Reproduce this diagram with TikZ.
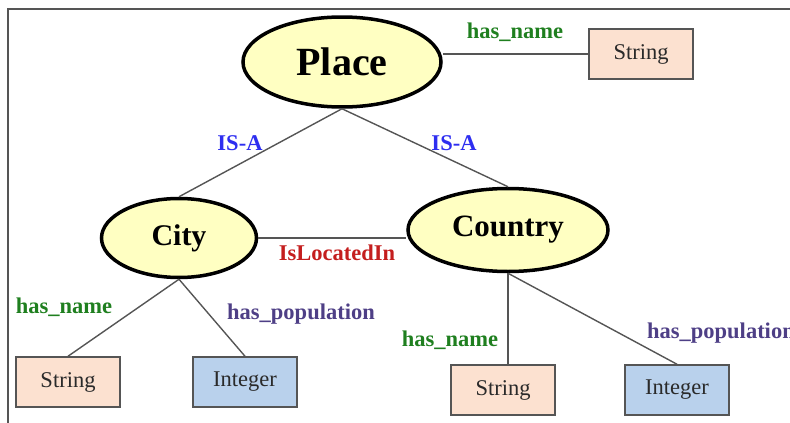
\documentclass[tikz,border=0pt]{standalone}
\usepackage{fontspec}
\setmainfont{Liberation Serif}
\usetikzlibrary{shapes.geometric, positioning}
\definecolor{classfill}{HTML}{FFFFC2}
\definecolor{strfill}{HTML}{FCE1D0}
\definecolor{intfill}{HTML}{B9D1EC}
\definecolor{boxline}{HTML}{555555}
\definecolor{typetext}{HTML}{2A2A2A}
\definecolor{isacol}{HTML}{2E2EF0}
\definecolor{namecol}{HTML}{1F7F1F}
\definecolor{loccol}{HTML}{C41E1E}
\definecolor{popcol}{HTML}{4E3F86}
\tikzset{
x=1pt, y=-1pt, % one unit is one pixel of the picture, y goes down
cls/.style={draw, ellipse, line width=3.5pt, fill=classfill, inner sep=0pt, font=\bfseries}, % class ellipses
typebox/.style={draw=boxline, line width=1.5pt, minimum width=104pt, minimum height=50pt, inner sep=0pt, text=typetext, font=\fontsize{22.5}{26}\selectfont}, % data type boxes
rel/.style={inner sep=0pt, font=\bfseries\fontsize{22.5}{26}\selectfont}, % relation labels
link/.style={draw=boxline, line width=1.4pt}, % connectors
}
\begin{document}
\begin{tikzpicture}
    \useasboundingbox (0,0) rectangle (790,423);
    \draw[boxline, line width=2pt] (8,423) -- (8,9) -- (790,9);
    % classes
    \node[cls, minimum width=198pt, minimum height=90pt, font=\bfseries\fontsize{40}{48}\selectfont] (place) at (342,62) {Place};
    \node[cls, minimum width=155pt, minimum height=79pt, font=\bfseries\fontsize{30}{36}\selectfont] (city) at (179,238) {City};
    \node[cls, minimum width=200pt, minimum height=83pt, font=\bfseries\fontsize{31}{36}\selectfont] (country) at (508,230) {Country};
    % types
    \node[typebox, fill=strfill] (pstr) at (641,54) {String};
    \node[typebox, fill=strfill] (cstr) at (68,382) {String};
    \node[typebox, fill=intfill] (cint) at (245,382) {Integer};
    \node[typebox, fill=strfill] (ystr) at (503,390) {String};
    \node[typebox, fill=intfill] (yint) at (677,390) {Integer};
    % edges
    \draw[link] (pstr.west) -- (pstr.west -| place.east);
    \draw[link] (place.south) -- (city.north);
    \draw[link] (place.south) -- (country.north);
    \draw[link] (city.east) -- (city.east -| country.west);
    \draw[link] (city.south) -- (cstr.north);
    \draw[link] (city.south) -- (cint.north);
    \draw[link] (country.south) -- (country.south |- ystr.north);
    \draw[link] (country.south) -- (yint.north);
    % labels
    \node[rel, text=namecol] (l1) at (515,32) {has\_name};
    \node[rel, text=isacol] (l2) at (240,143) {IS-A};
    \node[rel, text=isacol] (l3) at (454,143) {IS-A};
    \node[rel, text=loccol] (l4) at (337,253) {IsLocatedIn};
    \node[rel, text=namecol] (l5) at (64,307) {has\_name};
    \node[rel, text=popcol] (l6) at (301,314) {has\_population};
    \node[rel, text=namecol] (l7) at (450,340) {has\_name};
    \node[rel, text=popcol, anchor=west] (l8) at (647,333) {has\_population};
\end{tikzpicture}
\end{document}
